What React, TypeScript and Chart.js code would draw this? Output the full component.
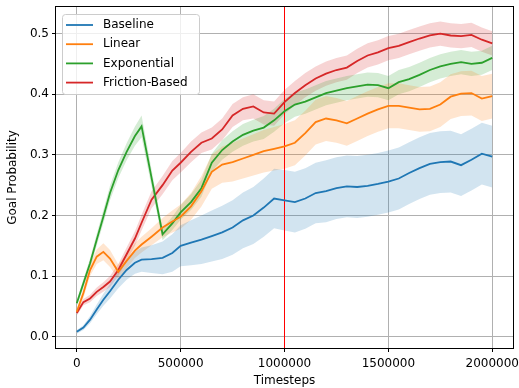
import { useEffect, useRef } from "react";
import { Chart, registerables } from "chart.js";

Chart.register(...registerables);

const TIMESTEPS = [
  0, 32000, 64000, 96000, 128000, 160000, 200000, 240000, 280000, 312000, 360000, 413000,
  460000, 500000, 550000, 600000, 650000, 700000, 750000, 800000, 850000, 900000, 950000,
  1000000, 1050000, 1100000, 1150000, 1200000, 1250000, 1300000, 1350000, 1400000, 1450000,
  1500000, 1550000, 1600000, 1650000, 1700000, 1750000, 1800000, 1850000, 1900000, 1950000,
  2000000,
];

const BASELINE_MEAN = [
  0.008, 0.015, 0.028, 0.045, 0.061, 0.075, 0.094, 0.110, 0.122, 0.127, 0.128, 0.130,
  0.138, 0.150, 0.155, 0.160, 0.166, 0.172, 0.180, 0.192, 0.200, 0.213, 0.228,
  0.225, 0.222, 0.228, 0.237, 0.240, 0.245, 0.248, 0.247, 0.249, 0.252,
  0.256, 0.261, 0.270, 0.278, 0.285, 0.288, 0.289, 0.283, 0.292, 0.302,
  0.297,
];
const BASELINE_SPREAD = [
  0.003, 0.004, 0.006, 0.008, 0.010, 0.012, 0.014, 0.016, 0.018, 0.020, 0.023, 0.027,
  0.031, 0.034, 0.037, 0.040, 0.042, 0.044, 0.045, 0.046, 0.047, 0.048, 0.049,
  0.050, 0.050, 0.050, 0.050, 0.051, 0.051, 0.051, 0.051, 0.051, 0.051,
  0.051, 0.051, 0.051, 0.051, 0.051, 0.051, 0.051, 0.051, 0.051, 0.051,
  0.051,
];

const LINEAR_MEAN = [
  0.041, 0.072, 0.110, 0.132, 0.140, 0.129, 0.107, 0.125, 0.142, 0.152, 0.165, 0.180,
  0.190, 0.198, 0.215, 0.240, 0.272, 0.284, 0.288, 0.294, 0.300, 0.306, 0.310,
  0.314, 0.320, 0.336, 0.354, 0.360, 0.357, 0.352, 0.360, 0.368, 0.375,
  0.381, 0.381, 0.378, 0.375, 0.376, 0.383, 0.396, 0.401, 0.402, 0.393,
  0.397,
];
const LINEAR_SPREAD = [
  0.005, 0.008, 0.010, 0.012, 0.014, 0.014, 0.012, 0.012, 0.012, 0.013, 0.014, 0.016,
  0.018, 0.020, 0.022, 0.025, 0.028, 0.030, 0.032, 0.033, 0.034, 0.035, 0.036,
  0.037, 0.037, 0.037, 0.037, 0.037, 0.037, 0.037, 0.037, 0.037, 0.037,
  0.037, 0.037, 0.037, 0.037, 0.037, 0.037, 0.037, 0.037, 0.037, 0.037,
  0.037,
];

const EXPONENTIAL_MEAN = [
  0.055, 0.088, 0.121, 0.160, 0.198, 0.237, 0.275, 0.305, 0.331, 0.347, 0.262, 0.169,
  0.187, 0.205, 0.222, 0.245, 0.287, 0.308, 0.322, 0.333, 0.340, 0.345, 0.357,
  0.372, 0.383, 0.388, 0.395, 0.402, 0.406, 0.410, 0.413, 0.416, 0.415,
  0.410, 0.420, 0.425, 0.432, 0.440, 0.446, 0.450, 0.453, 0.450, 0.452,
  0.460,
];
const EXPONENTIAL_SPREAD = [
  0.005, 0.007, 0.008, 0.010, 0.011, 0.012, 0.013, 0.014, 0.016, 0.018, 0.014, 0.010,
  0.011, 0.012, 0.013, 0.014, 0.015, 0.016, 0.017, 0.018, 0.018, 0.019, 0.019,
  0.020, 0.020, 0.020, 0.020, 0.020, 0.020, 0.020, 0.020, 0.020, 0.020,
  0.020, 0.020, 0.020, 0.020, 0.020, 0.020, 0.020, 0.020, 0.020, 0.020,
  0.020,
];

const FRICTION_MEAN = [
  0.039, 0.057, 0.063, 0.074, 0.082, 0.091, 0.110, 0.136, 0.162, 0.188, 0.226, 0.250,
  0.274, 0.287, 0.305, 0.320, 0.327, 0.342, 0.365, 0.376, 0.380, 0.370, 0.368,
  0.387, 0.402, 0.415, 0.426, 0.434, 0.440, 0.444, 0.455, 0.464, 0.469,
  0.476, 0.480, 0.486, 0.492, 0.497, 0.500, 0.497, 0.496, 0.498, 0.490,
  0.484,
];
const FRICTION_SPREAD = [
  0.004, 0.005, 0.006, 0.007, 0.008, 0.009, 0.010, 0.011, 0.012, 0.013, 0.014, 0.015,
  0.016, 0.016, 0.017, 0.017, 0.018, 0.018, 0.019, 0.019, 0.020, 0.020, 0.020,
  0.020, 0.020, 0.020, 0.020, 0.020, 0.020, 0.020, 0.020, 0.020, 0.020,
  0.020, 0.020, 0.020, 0.020, 0.020, 0.020, 0.020, 0.020, 0.020, 0.020,
  0.020,
];

const X_TICKS = [0, 500000, 1000000, 1500000, 2000000];
const Y_TICKS = [0, 0.1, 0.2, 0.3, 0.4, 0.5];
const SWITCH_STEP = 1000000;
const X_RANGE = [-100000, 2100000];
const Y_RANGE = [-0.0187, 0.544];

const SERIES = [
  { label: "Baseline", color: "#1f77b4", band: "rgba(31,119,180,0.2)", mean: BASELINE_MEAN, spread: BASELINE_SPREAD },
  { label: "Linear", color: "#ff7f0e", band: "rgba(255,127,14,0.2)", mean: LINEAR_MEAN, spread: LINEAR_SPREAD },
  { label: "Exponential", color: "#2ca02c", band: "rgba(44,160,44,0.2)", mean: EXPONENTIAL_MEAN, spread: EXPONENTIAL_SPREAD },
  { label: "Friction-Based", color: "#d62728", band: "rgba(214,39,40,0.2)", mean: FRICTION_MEAN, spread: FRICTION_SPREAD },
];

const FONT = '"DejaVu Sans"';

const framePlugin = {
  id: "mplFrame",
  afterDatasetsDraw(chart: any) {
    const { ctx, chartArea: a } = chart;
    ctx.save();
    ctx.strokeStyle = "#000";
    ctx.lineWidth = 1;
    ctx.strokeRect(Math.round(a.left) - 0.5, Math.round(a.top) - 0.5, Math.round(a.right - a.left) + 1, Math.round(a.bottom - a.top) + 1);
    ctx.restore();
  },
};

const legendPlugin = {
  id: "mplLegend",
  afterDraw(chart: any) {
    const { ctx, chartArea: a } = chart;
    const items = chart.data.datasets.filter((d: any) => d.isMain);
    const bx = a.left + 6.5;
    const by = a.top + 7.5;
    const bw = 137;
    const bh = 80;
    ctx.save();
    ctx.beginPath();
    if (ctx.roundRect) ctx.roundRect(bx, by, bw, bh, 3);
    else ctx.rect(bx, by, bw, bh);
    ctx.fillStyle = "rgba(255,255,255,0.8)";
    ctx.fill();
    ctx.strokeStyle = "#cccccc";
    ctx.lineWidth = 1;
    ctx.stroke();
    ctx.font = `12px ${FONT}`;
    ctx.textBaseline = "middle";
    ctx.textAlign = "left";
    items.forEach((d: any, i: number) => {
      const y = by + 10.5 + i * 19.2;
      ctx.beginPath();
      ctx.moveTo(bx + 3.5, y);
      ctx.lineTo(bx + 30.5, y);
      ctx.strokeStyle = d.borderColor;
      ctx.lineWidth = 1.8;
      ctx.stroke();
      ctx.fillStyle = "#000";
      ctx.fillText(d.label, bx + 40.5, y);
    });
    ctx.restore();
  },
};

export default function App() {
  const ref = useRef<HTMLCanvasElement | null>(null);

  useEffect(() => {
    const canvas = ref.current;
    if (!canvas) return;
    Chart.defaults.font.family = FONT;
    Chart.defaults.font.size = 12;
    Chart.defaults.color = "#000";

    const bandSets: any[] = [];
    const lineSets: any[] = [];
    SERIES.forEach((s) => {
      bandSets.push({
        label: s.label + " lower",
        data: TIMESTEPS.map((x, i) => ({ x, y: s.mean[i] - s.spread[i] })),
        borderColor: "transparent",
        borderWidth: 0,
        pointRadius: 0,
        fill: false,
      });
      bandSets.push({
        label: s.label + " upper",
        data: TIMESTEPS.map((x, i) => ({ x, y: s.mean[i] + s.spread[i] })),
        borderColor: "transparent",
        borderWidth: 0,
        pointRadius: 0,
        backgroundColor: s.band,
        fill: "-1",
      });
      lineSets.push({
        label: s.label,
        isMain: true,
        data: TIMESTEPS.map((x, i) => ({ x, y: s.mean[i] })),
        borderColor: s.color,
        backgroundColor: s.color,
        borderWidth: 1.8,
        pointRadius: 0,
        fill: false,
        tension: 0,
      });
    });
    const vline = {
      label: "switch",
      data: [
        { x: SWITCH_STEP, y: Y_RANGE[0] },
        { x: SWITCH_STEP, y: Y_RANGE[1] },
      ],
      borderColor: "#ff0000",
      borderWidth: 1,
      pointRadius: 0,
      fill: false,
    };

    const chart = new Chart(canvas, {
      type: "line",
      data: { datasets: [...bandSets, ...lineSets, vline] },
      options: {
        animation: false,
        responsive: false,
        devicePixelRatio: 1,
        layout: { padding: { left: 0, top: 7, right: 6, bottom: 0 } },
        plugins: {
          legend: { display: false },
          tooltip: { enabled: false },
          filler: { drawTime: "beforeDatasetsDraw" },
        } as any,
        scales: {
          x: {
            type: "linear",
            min: X_RANGE[0],
            max: X_RANGE[1],
            afterBuildTicks: (scale: any) => {
              scale.ticks = X_TICKS.map((v) => ({ value: v }));
            },
            afterFit: (scale: any) => {
              scale.height = 40;
              scale.paddingLeft = 0;
              scale.paddingRight = 0;
            },
            ticks: {
              callback: (v: any) => String(v),
              padding: 5,
              maxRotation: 0,
              autoSkip: false,
              color: "#000",
              font: { size: 12, family: FONT },
            },
            grid: {
              color: "#b0b0b0",
              lineWidth: 1,
              tickColor: "#000",
              tickLength: 4,
              tickWidth: 1,
            },
            border: { display: false },
            title: {
              display: true,
              text: "Timesteps",
              color: "#000",
              font: { size: 12, family: FONT },
              padding: { top: 0, bottom: 0 },
            },
          },
          y: {
            type: "linear",
            min: Y_RANGE[0],
            max: Y_RANGE[1],
            afterBuildTicks: (scale: any) => {
              scale.ticks = Y_TICKS.map((v) => ({ value: v }));
            },
            afterFit: (scale: any) => {
              scale.width = 56;
              scale.paddingTop = 0;
              scale.paddingBottom = 0;
            },
            ticks: {
              callback: (v: any) => Number(v).toFixed(1),
              padding: 3,
              autoSkip: false,
              color: "#000",
              font: { size: 12, family: FONT },
            },
            grid: {
              color: "#b0b0b0",
              lineWidth: 1,
              tickColor: "#000",
              tickLength: 4,
              tickWidth: 1,
            },
            border: { display: false },
            title: {
              display: true,
              text: "Goal Probability",
              color: "#000",
              font: { size: 12, family: FONT },
              padding: { top: 6, bottom: 0 },
            },
          },
        },
      },
      plugins: [framePlugin, legendPlugin],
    });
    return () => chart.destroy();
  }, []);

  return (
    <div style={{ position: "fixed", left: 0, top: 0, width: 519, height: 388, background: "#fff" }}>
      <canvas ref={ref} width={519} height={388} style={{ width: 519, height: 388, display: "block" }} />
    </div>
  );
}
